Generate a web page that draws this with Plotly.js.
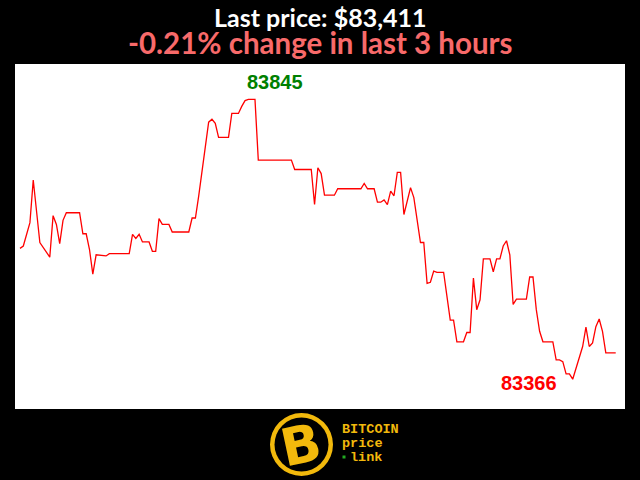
<!DOCTYPE html>
<html>
<head>
<meta charset="utf-8">
<script src="https://cdn.plot.ly/plotly-3.0.1.min.js"></script>
<style>html,body{margin:0;padding:0;background:#000;}#chart{width:640px;height:480px;}</style>
</head>
<body>
<div id="chart"></div>
<script>
// minutes since start of the 3-hour window
const minutes = [0,1,3,4,6,9,10,11,12,13,14,18,19,20,21,22,23,24,26,27,33,34,35,36,37,39,40,41,42,43,45,46,51,52,53,54,55,56,57,58,59,60,63,64,66,67,68,69,71,72,82,83,88,89,90,91,92,95,96,103,104,105,107,108,109,110,111,112,113,114,115,116,118,119,121,122,123,124,125,126,128,130,131,132,134,135,136,137,138,139,140,142,143,144,145,146,147,148,149,150,153,154,155,156,157,158,161,162,163,164,165,166,167,170,171,172,173,174,175,176,177,180];
// BTC price (USD)
const prices = [83590,83594,83634,83707,83600,83575,83646,83631,83598,83638,83651,83651,83615,83615,83588,83546,83579,83578,83577,83581,83581,83614,83607,83614,83601,83601,83585,83585,83641,83631,83631,83618,83618,83642,83642,83680,83725,83771,83806,83811,83804,83780,83780,83821,83821,83833,83843,83845,83845,83741,83741,83725,83725,83665,83728,83718,83681,83681,83692,83692,83701,83692,83692,83669,83669,83673,83665,83688,83680,83720,83720,83648,83694,83677,83600,83600,83530,83532,83551,83549,83549,83467,83467,83430,83430,83446,83446,83539,83485,83502,83572,83572,83550,83572,83572,83594,83603,83579,83494,83503,83503,83541,83541,83485,83448,83430,83430,83399,83399,83396,83375,83375,83366,83422,83455,83422,83428,83456,83469,83448,83411,83411];

const titleLine1 = "Last price: $83,411";
const titleLine2 = "-0.21% change in last 3 hours";
const logoWords = ["BITCOIN", "price", "link"];

const maxVal = Math.max(...prices);
const minVal = Math.min(...prices);
const tMax = minutes[prices.indexOf(maxVal)];
const tMin = minutes[prices.indexOf(minVal)];

// pixel -> paper helpers (plot area 15..625 x 64..409)
const L = 15, R = 15, T = 64, B = 71;
const W = 640 - L - R, H = 480 - T - B;
const px = x => (x - L) / W;
const py = y => (480 - B - y) / H;

const gold = "#f2b90c";

const trace = {
  x: minutes, y: prices, type: "scatter", mode: "lines",
  line: {color: "#ff0000", width: 1.3}, hoverinfo: "skip"
};

const titleText =
  "<span style='font-size:25px;color:#ffffff'><b>" + titleLine1 + "</b></span><br>" +
  "<span style='font-size:29.5px;color:#f86a6a'><b>" + titleLine2 + "</b></span>";

const layout = {
  width: 640, height: 480,
  margin: {l: L, r: R, t: T, b: B, pad: 0},
  paper_bgcolor: "#000000", plot_bgcolor: "#ffffff",
  showlegend: false,
  xaxis: {visible: false, range: [-1.51, 182.8], fixedrange: true},
  yaxis: {visible: false, range: [83315, 83905.6], fixedrange: true},
  annotations: [
    {text: titleText, xref: "paper", yref: "paper", x: 0.5, y: py(31),
     xanchor: "center", yanchor: "middle", showarrow: false, borderpad: 0,
     font: {family: "Lato, sans-serif", size: 21, color: "#ffffff"}},
    {text: "<b>" + maxVal + "</b>", x: tMax, y: maxVal, xref: "x", yref: "y",
     xanchor: "center", yanchor: "middle", xshift: 26.7, yshift: 17.3, showarrow: false,
     font: {family: "Liberation Sans, Arial, sans-serif", size: 20, color: "#008000"}},
    {text: "<b>" + minVal + "</b>", x: tMin, y: minVal, xref: "x", yref: "y",
     xanchor: "center", yanchor: "middle", xshift: -44.2, yshift: -3.7, showarrow: false,
     font: {family: "Liberation Sans, Arial, sans-serif", size: 20, color: "#ff0000"}},
    {text: "<b>B</b>", xref: "paper", yref: "paper", x: px(301), y: py(445),
     xanchor: "center", yanchor: "middle", showarrow: false, textangle: -12,
     font: {family: "DejaVu Sans, sans-serif", size: 52, color: gold}},
    {text: "<b>" + logoWords[0] + "</b>", xref: "paper", yref: "paper", x: px(340), y: py(429),
     xanchor: "left", yanchor: "middle", showarrow: false,
     font: {family: "Liberation Mono, monospace", size: 13.5, color: gold}},
    {text: "<b>" + logoWords[1] + "</b>", xref: "paper", yref: "paper", x: px(340), y: py(443),
     xanchor: "left", yanchor: "middle", showarrow: false,
     font: {family: "Liberation Mono, monospace", size: 13.5, color: gold}},
    {text: "<b>" + logoWords[2] + "</b>", xref: "paper", yref: "paper", x: px(348), y: py(457),
     xanchor: "left", yanchor: "middle", showarrow: false,
     font: {family: "Liberation Mono, monospace", size: 13.5, color: gold}}
  ],
  shapes: [
    {type: "circle", xref: "paper", yref: "paper", x0: px(270), x1: px(333), y0: py(476), y1: py(413),
     fillcolor: gold, line: {width: 0}, layer: "above"},
    {type: "circle", xref: "paper", yref: "paper", x0: px(274.5), x1: px(328.5), y0: py(471.5), y1: py(417.5),
     fillcolor: "#000000", line: {width: 0}, layer: "above"},
    {type: "rect", xref: "paper", yref: "paper", x0: px(342.5), x1: px(345.5), y0: py(458.5), y1: py(455.5),
     fillcolor: "#22aa22", line: {width: 0}, layer: "above"}
  ]
};

Plotly.newPlot("chart", [trace], layout, {staticPlot: true, displayModeBar: false});
</script>
</body>
</html>
